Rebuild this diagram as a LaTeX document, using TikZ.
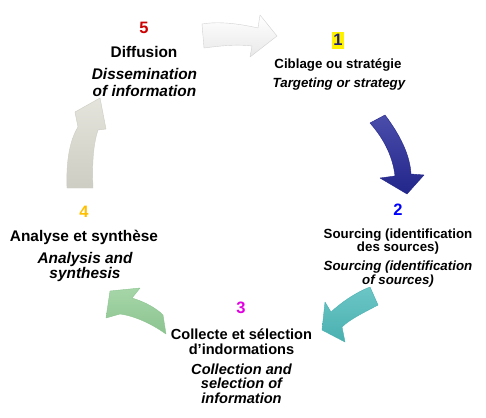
\documentclass[tikz,border=0pt]{standalone}
\usepackage{fontspec}
\setmainfont{Liberation Sans}
\definecolor{cRed}{HTML}{CC0000}
\definecolor{cNavy}{HTML}{1F1F80}
\definecolor{cBlue}{HTML}{0000FF}
\definecolor{cMag}{HTML}{E000E0}
\definecolor{cGold}{HTML}{FFC000}
\definecolor{bTop}{HTML}{4A4DAA}
\definecolor{bBot}{HTML}{23268A}
\definecolor{tTop}{HTML}{6CC6C6}
\definecolor{tBot}{HTML}{4AB0B0}
\definecolor{gTop}{HTML}{A6D6A8}
\definecolor{gBot}{HTML}{8CC490}
\definecolor{sTop}{HTML}{E4E4DC}
\definecolor{sBot}{HTML}{CDCDC3}
\begin{document}
\begin{tikzpicture}[x=1pt,y=-1pt,
  lbl/.style={inner sep=0pt, anchor=base},
  frA/.style={lbl, font=\bfseries\fontsize{13.3}{14.5}\selectfont},
  enA/.style={lbl, font=\bfseries\itshape\fontsize{13.3}{14.5}\selectfont},
  frB/.style={lbl, font=\bfseries\fontsize{14.6}{16}\selectfont},
  enB/.style={lbl, font=\bfseries\itshape\fontsize{14.6}{16}\selectfont},
  frC/.style={lbl, font=\bfseries\fontsize{15.4}{17}\selectfont},
  enC/.style={lbl, font=\bfseries\itshape\fontsize{15.4}{17}\selectfont},
  num/.style={lbl, font=\bfseries\fontsize{16.5}{17}\selectfont},
  blockarrow/.style={line width=0.4pt, line join=round}
]
\fill[white] (0,0) rectangle (486,417);
\useasboundingbox (0,0) rectangle (486,417);

% arrow 1 (white)
\path[blockarrow, draw=gray!35, top color=white, bottom color=gray!18]
  (202,24) .. controls (220,21) and (240,24) .. (258,28) -- (260,15) -- (277,36) -- (250,57) -- (252,46)
  .. controls (235,44) and (220,46) .. (204,48) -- cycle;
% arrow 2 (dark blue)
\path[blockarrow, draw=bBot, top color=bTop, bottom color=bBot]
  (370,123) -- (385,115) .. controls (400,135) and (410,155) .. (411,174) -- (424,175) -- (407,194)
  -- (380,178) -- (395,176) .. controls (393,158) and (385,140) .. (370,123) -- cycle;
% arrow 3 (teal)
\path[blockarrow, draw=tBot, top color=tTop, bottom color=tBot]
  (370,287) -- (378,305) .. controls (365,312) and (350,319) .. (342,327) -- (345,342) -- (322,330)
  -- (325,302) -- (331,312) .. controls (343,301) and (357,292) .. (370,287) -- cycle;
% arrow 4 (green)
\path[blockarrow, draw=gBot, top color=gTop, bottom color=gBot]
  (110,291) -- (140,288) -- (132,298) .. controls (145,302) and (156,308) .. (163,315) -- (166,334)
  .. controls (152,324) and (135,316) .. (120,314) -- (106,318) -- cycle;
% arrow 5 (grey)
\path[blockarrow, draw=sBot, top color=sTop, bottom color=sBot]
  (67,188) .. controls (66,160) and (70,140) .. (78,127) -- (75,112) -- (100,98) -- (106,129) -- (98,130)
  .. controls (93,145) and (92,165) .. (93,188) -- cycle;

% step 5
\node[num, text=cRed] (n5) at (144,33.3) {5};
\node[frC] (f5) at (144,58) {Diffusion};
\node[enC] (e5a) at (144.5,80) {Dissemination};
\node[enC] (e5b) at (144.5,96.5) {of information};
% step 1
\fill[yellow] (332,32) rectangle (343.5,49);
\node[num, text=cNavy] (n1) at (338,46) {1};
\node[frA] (f1) at (338,68.3) {Ciblage ou stratégie};
\node[enA] (e1) at (339,88) {Targeting or strategy};
% step 2
\node[num, text=cBlue] (n2) at (398,215) {2};
\node[frA] (f2a) at (398,238) {Sourcing (identification};
\node[frA] (f2b) at (398,251.5) {des sources)};
\node[enA] (e2a) at (398,270.5) {Sourcing (identification};
\node[enA] (e2b) at (398,284.5) {of sources)};
% step 4
\node[num, text=cGold] (n4) at (84,217) {4};
\node[frC] (f4) at (84,241.7) {Analyse et synthèse};
\node[enC] (e4a) at (85,263) {Analysis and};
\node[enC] (e4b) at (85,278) {synthesis};
% step 3
\node[num, text=cMag] (n3) at (241,313.3) {3};
\node[frB] (f3a) at (241.5,339) {Collecte et sélection};
\node[frB] (f3b) at (241.5,354.3) {d’indormations};
\node[enB] (e3a) at (241.5,374) {Collection and};
\node[enB] (e3b) at (241.5,388.5) {selection of};
\node[enB] (e3c) at (241.5,403) {information};
\end{tikzpicture}
\end{document}
